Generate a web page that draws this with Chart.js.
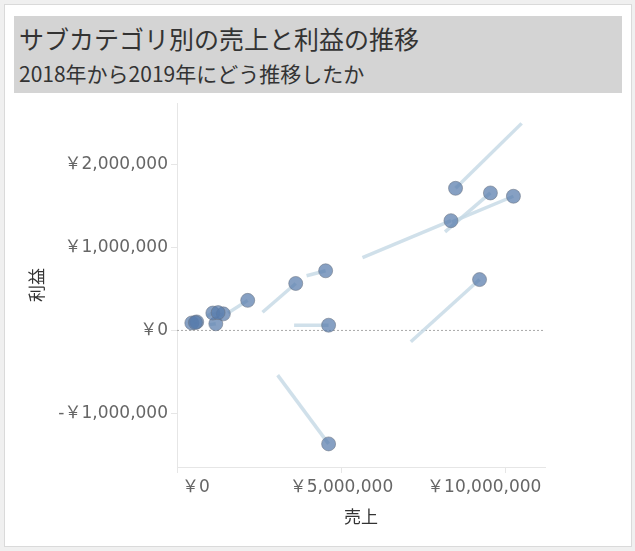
<!DOCTYPE html>
<html><head><meta charset="utf-8">
<script src="https://cdn.jsdelivr.net/npm/chart.js@4.4.0/dist/chart.umd.min.js"></script>
<style>
html,body{margin:0;padding:0;background:#f0f0f0;width:635px;height:551px;overflow:hidden;font-family:"Noto Sans CJK JP",sans-serif}
#panel{position:absolute;left:4px;top:4px;width:626px;height:541px;background:#fff;border:1px solid #dadada}
#band{position:absolute;left:14px;top:16px;width:608px;height:77px;background:#d4d4d4}
#t1{position:absolute;left:19px;top:23px;font-size:25px;line-height:30px;color:#333;white-space:nowrap}
#t2{position:absolute;left:19px;top:60px;font-size:21px;line-height:26px;color:#333;white-space:nowrap}
#wrap{position:absolute;left:5px;top:95px;width:625px;height:450px}
</style></head>
<body>
<div id="panel"></div>
<div id="band"></div>
<div id="t1">サブカテゴリ別の売上と利益の推移</div>
<div id="t2">2018年から2019年にどう推移したか</div>
<div id="wrap"><canvas id="c" width="625" height="450"></canvas></div>
<script>
// 2018 -> 2019 values per sub-category (yen)
const sales2018  = [10480000, 8150000, 5640000, 8360000, 3940000, 2600000, 7110000, 3560000, 3060000, 1550000, 400000, 500000, 1000000, 900000, 1200000, 1050000, 550000];
const profit2018 = [2500000, 1190000, 880000, 1310000, 660000, 220000, -137000, 63000, -540000, 210000, 80000, 90000, 70000, 170000, 170000, 180000, 85000];
const sales2019  = [8470000, 9530000, 8330000, 10230000, 4520000, 3610000, 9200000, 4610000, 4610000, 2150000, 450000, 600000, 1180000, 1090000, 1410000, 1250000, 560000];
const profit2019 = [1716000, 1660000, 1325000, 1620000, 720000, 567000, 614000, 63000, -1370000, 363000, 90000, 103000, 80000, 210000, 200000, 215000, 95000];

const xTickValues = [0, 5000000, 10000000];
const xTickLabels = ['￥0', '￥5,000,000', '￥10,000,000'];
const yTickValues = [-1000000, 0, 1000000, 2000000];
const yTickLabels = ['-￥1,000,000', '￥0', '￥1,000,000', '￥2,000,000'];
const xMin = 0, xMax = 11190000;
const yMin = -1649000, yMax = 2746000;

const FONT = '"DejaVu Sans","Noto Sans CJK JP",sans-serif';
Chart.defaults.font.family = FONT;

const datasets = [];
datasets.push({
  label: '2019',
  data: sales2019.map((s, i) => ({x: s, y: profit2019[i]})),
  pointRadius: 7,
  pointBackgroundColor: 'rgba(88,124,172,0.72)',
  pointBorderColor: 'rgba(105,115,130,0.55)',
  pointBorderWidth: 1,
  showLine: false,
  order: 0
});
sales2019.forEach((s, i) => {
  datasets.push({
    label: 'move' + i,
    data: [{x: sales2018[i], y: profit2018[i]}, {x: s, y: profit2019[i]}],
    showLine: true,
    pointRadius: 0,
    borderColor: 'rgba(200,218,230,0.85)',
    borderWidth: 3.5,
    order: 2
  });
});
datasets.push({
  label: 'zero',
  data: [{x: xMin, y: 0}, {x: xMax, y: 0}],
  showLine: true,
  pointRadius: 0,
  borderColor: '#a8a8a8',
  borderWidth: 1,
  borderDash: [2, 2],
  order: 3
});

new Chart(document.getElementById('c'), {
  type: 'scatter',
  data: {datasets},
  options: {
    responsive: false,
    animation: false,
    layout: {padding: {top: 5, right: 85, left: 0, bottom: 0}},
    plugins: {legend: {display: false}, tooltip: {enabled: false}},
    scales: {
      x: {
        type: 'linear', min: xMin, max: xMax,
        afterBuildTicks: a => { a.ticks = xTickValues.map(v => ({value: v})); },
        afterFit: s => { s.height = 78; },
        ticks: {
          color: '#666', font: {size: 17}, padding: 4, maxRotation: 0, autoSkip: false,
          callback: (v, i, arr) => {
            const lab = xTickLabels[xTickValues.indexOf(v)];
            if (i === 0) return ' '.repeat(7) + lab;
            if (i === arr.length - 1) return lab + ' '.repeat(8);
            return lab;
          }
        },
        grid: {drawOnChartArea: false, drawTicks: true, tickLength: 6, color: '#e6e6e6'},
        border: {display: true, color: '#e6e6e6'},
        title: {display: true, text: '売上', color: '#333', font: {size: 17, family: '"Noto Sans CJK JP",sans-serif'}, padding: {top: 4, bottom: 17.8}}
      },
      y: {
        type: 'linear', min: yMin, max: yMax,
        afterBuildTicks: a => { a.ticks = yTickValues.map(v => ({value: v})); },
        afterFit: s => { s.width = 172; s.paddingTop = 0; s.paddingBottom = 0; },
        ticks: {
          color: '#666', font: {size: 17}, padding: 3, autoSkip: false,
          callback: v => yTickLabels[yTickValues.indexOf(v)]
        },
        grid: {drawOnChartArea: false, drawTicks: true, tickLength: 6, color: '#e6e6e6'},
        border: {display: true, color: '#e6e6e6'},
        title: {display: true, text: '利益', color: '#333', font: {size: 17, family: '"Noto Sans CJK JP",sans-serif'}, padding: {top: 21.8, bottom: 4}}
      }
    }
  }
});
</script>
</body></html>
